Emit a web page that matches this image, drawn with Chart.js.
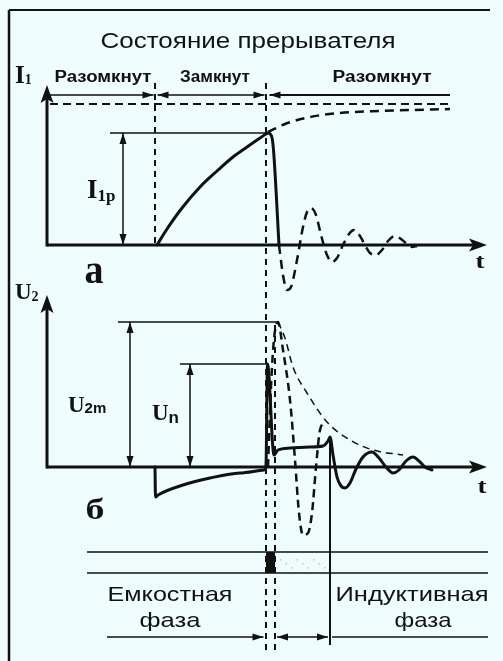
<!DOCTYPE html>
<html><head><meta charset="utf-8">
<script src="https://cdn.jsdelivr.net/npm/chart.js@4.4.0/dist/chart.umd.min.js"></script>
<style>html,body{margin:0;padding:0;background:#eefcfe;}#wrap{position:relative;width:503px;height:661px;}</style>
</head><body><div id="wrap"><canvas id="c"></canvas></div>
<script>
// ---------- DATA (time t in arbitrary units, currents / voltages in arbitrary units) ----------
const tClose = 10.8;      // breaker closes
const tBreak = 21.9;      // breaker opens
const tSpark = 22.8;      // breakdown
const tSparkEnd = 28.3;   // end of inductive phase
const levelI1p = 11.2;    // I1р
const levelI1max = 14.1;  // steady-state current (dashed)
const levelU2m = 14.5;    // U2m
const levelUn = 10.3;     // Un

const i1Charge_t = [11.0, 12.0, 13.5, 15.3, 17.0, 18.6, 20.0, 21.3, 21.9, 22.1, 22.45, 22.65, 23.2];
const i1Charge_v = [0, 1.6, 3.7, 5.8, 7.4, 8.8, 9.8, 10.7, 11.1, 11.2, 10.9, 9.5, 0];

const i1Osc_t = [23.2, 23.6, 24.0, 24.4, 25.0, 25.6, 26.0, 26.4, 26.9, 27.4, 28.0, 28.5, 29.0, 29.6, 30.2, 30.7, 31.3, 31.9, 32.3, 32.9, 33.5, 34.1, 34.8, 35.4, 36.0, 36.5, 37.0];
const i1Osc_v = [0, -3.0, -4.5, -4.2, -1.5, 1.8, 3.3, 3.7, 3.0, 1.0, -1.0, -1.7, -1.3, 0, 1.1, 1.5, 0.9, -0.2, -0.8, -1.0, -0.5, 0.4, 0.9, 0.6, 0.1, -0.2, -0.1];

const i1Asym_t = [22.1, 23.8, 26.3, 29.3, 33.3, 40.3];
const i1Asym_v = [11.3, 12.1, 12.8, 13.2, 13.4, 13.6];

const u2_t = [10.8, 10.85, 11.1, 13.6, 16.3, 19.3, 21.7, 21.9, 22.05, 22.7, 23.1, 24.3, 26.3, 27.6, 28.1, 28.3, 28.6, 29.0, 29.4, 29.8, 30.3, 30.9, 31.6, 32.5, 33.2, 33.9, 34.6, 35.2, 35.9, 36.6, 37.2, 37.8, 38.5];
const u2_v = [0, -3.0, -2.8, -1.8, -1.1, -0.6, -0.3, 0.2, 10.3, 1.2, 1.7, 1.9, 2.0, 2.1, 2.6, 3.0, 1.2, -1.0, -1.9, -2.1, -1.6, -0.2, 1.0, 1.5, 0.9, 0.0, -0.6, -0.3, 0.6, 1.0, 0.6, 0.0, -0.3];

const u2Env_t = [23.1, 23.8, 24.6, 26.0, 28.0, 30.3, 32.6, 35.6];
const u2Env_v = [14.5, 12.9, 10.0, 7.4, 4.5, 2.7, 1.7, 1.2];

const u2Open_t = [22.1, 22.4, 22.7, 23.1, 23.6, 24.3, 24.8, 25.2, 25.6, 26.1, 26.5, 26.9, 27.3, 27.8];
const u2Open_v = [0, 8.0, 12.8, 14.5, 11.7, 6.7, 0.7, -4.6, -6.8, -6.6, -4.6, 0, 3.7, 4.5];

const txtTitle = 'Состояние прерывателя';
const txtStates = ['Разомкнут', 'Замкнут', 'Разомкнут'];
const txtPhases = ['Емкостная', 'фаза', 'Индуктивная', 'фаза'];

// ---------- RENDER ----------
const BG = '#eefcfe', INK = '#111';
const zip = (t, v) => t.map((x, i) => ({x: x, y: v[i]}));
const SANS = '"Liberation Sans", Arial, sans-serif';
const SERIF = '"Liberation Serif", "Times New Roman", serif';

function seg(ctx, x1, y1, x2, y2, w, dash) {
  ctx.save(); ctx.strokeStyle = INK; ctx.lineWidth = w; ctx.setLineDash(dash || []);
  ctx.beginPath(); ctx.moveTo(x1, y1); ctx.lineTo(x2, y2); ctx.stroke(); ctx.restore();
}
function head(ctx, x, y, ang, len, wid, notch) {
  const c = Math.cos(ang), s = Math.sin(ang);
  const bx = x - len * c, by = y - len * s;
  const nx = x - (len - (notch || 0)) * c, ny = y - (len - (notch || 0)) * s;
  ctx.save(); ctx.fillStyle = INK; ctx.beginPath();
  ctx.moveTo(x, y);
  ctx.lineTo(bx - wid / 2 * s, by + wid / 2 * c);
  ctx.lineTo(nx, ny);
  ctx.lineTo(bx + wid / 2 * s, by - wid / 2 * c);
  ctx.closePath(); ctx.fill(); ctx.restore();
}
function arrow(ctx, x1, y1, x2, y2, w, startHead, endHead) {
  const ang = Math.atan2(y2 - y1, x2 - x1);
  seg(ctx, x1, y1, x2, y2, w);
  if (endHead) head(ctx, x2, y2, ang, 11, 7, 0);
  if (startHead) head(ctx, x1, y1, ang + Math.PI, 11, 7, 0);
}
function fitText(ctx, txt, cx, by, font, w) {
  ctx.save(); ctx.font = font; ctx.fillStyle = INK;
  const m = ctx.measureText(txt).width;
  ctx.translate(cx, by); ctx.scale(w / m, 1);
  ctx.textAlign = 'center'; ctx.textBaseline = 'alphabetic';
  ctx.fillText(txt, 0, 0); ctx.restore();
}
function sub(ctx, main, subs, x, by, f1, f2, dy) {
  ctx.save(); ctx.fillStyle = INK; ctx.textAlign = 'left'; ctx.textBaseline = 'alphabetic';
  ctx.font = f1; ctx.fillText(main, x, by);
  const w = ctx.measureText(main).width;
  ctx.font = f2; ctx.fillText(subs, x + w, by + dy); ctx.restore();
}

const decor = {
  id: 'decor',
  beforeDraw(chart) {
    const ctx = chart.ctx; ctx.save(); ctx.fillStyle = BG; ctx.fillRect(0, 0, chart.width, chart.height);
    seg(ctx, 9, 10, 490, 10, 2); seg(ctx, 9, 10, 9, 661, 2.5);
    ctx.restore();
  },
  beforeDatasetsDraw(chart) {
    const ctx = chart.ctx, s = chart.scales;
    const X = v => s.x.getPixelForValue(v), A = v => s.yA.getPixelForValue(v), B = v => s.yB.getPixelForValue(v);
    // --- plot a axes
    seg(ctx, X(0), A(0), X(44.0) - 10, A(0), 3);
    head(ctx, X(44.0), A(0), 0, 18, 13, 4);
    seg(ctx, X(0), A(0) + 1.5, X(0), A(16.0) + 10, 3);
    head(ctx, X(0), A(16.0), -Math.PI / 2, 18, 13, 4);
    // --- plot б axes
    seg(ctx, X(0), B(0), X(44.0) - 10, B(0), 3);
    head(ctx, X(0), B(17.2), -Math.PI / 2, 18, 13, 4);
    seg(ctx, X(0), B(0) + 1.5, X(0), B(17.2) + 10, 3);
    head(ctx, X(44.0), B(0), 0, 18, 13, 4);
    // breaker state arrows
    arrow(ctx, X(0.3), A(15.0), X(tClose) - 1.5, A(15.0), 1.5, false, true);
    arrow(ctx, X(tClose) + 2.5, A(15.0), X(tBreak) - 1.5, A(15.0), 1.5, true, true);
    arrow(ctx, X(tBreak) + 3.5, A(15.0), X(40.3), A(15.0), 2, true, false);
    // steady current dashed
    seg(ctx, X(0.3), A(levelI1max), X(40.3), A(levelI1max), 2, [8, 5]);
    // vertical dashed lines
    seg(ctx, X(tClose), A(16.2), X(tClose), A(0), 2, [6, 5]);
    seg(ctx, X(tBreak), A(16.2), X(tBreak), B(-18.3), 2, [6, 5]);
    seg(ctx, X(tSpark), B(14.2), X(tSpark), B(-18.3), 2, [6, 5]);
    // I1p dimension
    seg(ctx, X(6.3), A(levelI1p), X(tBreak), A(levelI1p), 1.5);
    arrow(ctx, X(7.6), A(0), X(7.6), A(levelI1p), 1.5, true, true);
    // U2m, Un dimensions
    seg(ctx, X(7.1), B(levelU2m), X(23.1), B(levelU2m), 1.5);
    arrow(ctx, X(8.3), B(0), X(8.3), B(levelU2m), 1.5, true, true);
    seg(ctx, X(13.3), B(levelUn), X(22.1), B(levelUn), 1.5);
    arrow(ctx, X(14.3), B(0), X(14.3), B(levelUn), 1.5, true, true);
    // phase strip
    seg(ctx, X(4.0), B(-8.5), X(44.1), B(-8.5), 1.5);
    seg(ctx, X(4.0), B(-10.6), X(44.1), B(-10.6), 1.5);
    ctx.save(); ctx.fillStyle = INK;
    ctx.fillRect(X(tBreak), B(-8.5), X(tSpark) - X(tBreak), B(-10.6) - B(-8.5));
    ctx.fillStyle = '#bfc8c8';
    for (let k = 0; k < 9; k++) { ctx.fillRect(X(tSpark + 0.5 + k * 0.55), B(-9.2 - (k % 3) * 0.4), 1.5, 1.5); }
    ctx.restore();
    seg(ctx, X(tSparkEnd), B(2.8), X(tSparkEnd), B(-17.8), 2);
    arrow(ctx, X(6.0), B(-17.0), X(tBreak) - 2.5, B(-17.0), 1.5, false, true);
    arrow(ctx, X(tSpark) + 2, B(-17.0), X(tSparkEnd) - 2, B(-17.0), 1.5, true, true);
    seg(ctx, X(tSparkEnd) + 2, B(-17.0), X(44.1), B(-17.0), 1.5);
  },
  afterDatasetsDraw(chart) {
    const ctx = chart.ctx, s = chart.scales;
    const X = v => s.x.getPixelForValue(v), A = v => s.yA.getPixelForValue(v), B = v => s.yB.getPixelForValue(v);
    fitText(ctx, txtTitle, X(20.1), A(19.7), '22px ' + SANS, 295);
    fitText(ctx, txtStates[0], X(5.6), A(16.3), 'bold 16px ' + SANS, 97);
    fitText(ctx, txtStates[1], X(16.8), A(16.3), 'bold 16px ' + SANS, 70);
    fitText(ctx, txtStates[2], X(33.5), A(16.3), 'bold 16px ' + SANS, 99);
    sub(ctx, 'I', '1', X(-3.2), A(16.2), 'bold 25px ' + SERIF, 'bold 14px ' + SERIF, 1);
    sub(ctx, 'I', '1р', X(4.0), A(4.7), 'bold 27px ' + SERIF, 'bold 17px ' + SERIF, 3);
    fitText(ctx, 'а', X(4.7), A(-3.8), 'bold 40px ' + SERIF, 19);
    fitText(ctx, 't', X(43.3), A(-2.3), 'bold 22px ' + SERIF, 9);
    sub(ctx, 'U', '2', X(-3.2), B(16.8), 'bold 23px ' + SERIF, 'bold 14px ' + SERIF, 2);
    sub(ctx, 'U', '2m', X(2.1), B(5.5), 'bold 23px ' + SERIF, 'bold 15px ' + SANS, 1);
    sub(ctx, 'U', 'n', X(10.5), B(4.7), 'bold 23px ' + SERIF, 'bold 17px ' + SANS, 3);
    fitText(ctx, 'б', X(4.8), B(-5.2), 'bold 30px ' + SERIF, 19);
    fitText(ctx, 't', X(43.5), B(-2.6), 'bold 22px ' + SERIF, 9);
    fitText(ctx, txtPhases[0], X(12.3), B(-13.4), '21px ' + SANS, 125);
    fitText(ctx, txtPhases[1], X(12.3), B(-16.0), '21px ' + SANS, 61);
    fitText(ctx, txtPhases[2], X(36.5), B(-13.4), '21px ' + SANS, 153);
    fitText(ctx, txtPhases[3], X(37.6), B(-16.0), '21px ' + SANS, 57);
  }
};

const dsBase = {showLine: true, pointRadius: 0, borderColor: INK, fill: false, cubicInterpolationMode: 'monotone', borderCapStyle: 'round', borderJoinStyle: 'round'};
new Chart(document.getElementById('c'), {
  type: 'scatter',
  data: {
    datasets: [
      Object.assign({}, dsBase, {label: 'I1', data: zip(i1Charge_t, i1Charge_v), yAxisID: 'yA', borderWidth: 3}),
      Object.assign({}, dsBase, {label: 'I1 osc', data: zip(i1Osc_t, i1Osc_v), yAxisID: 'yA', borderWidth: 2.5, borderDash: [9, 6], borderCapStyle: 'butt'}),
      Object.assign({}, dsBase, {label: 'I1 asym', data: zip(i1Asym_t, i1Asym_v), yAxisID: 'yA', borderWidth: 2.5, borderDash: [9, 6], borderCapStyle: 'butt'}),
      Object.assign({}, dsBase, {label: 'U2 open', data: zip(u2Open_t, u2Open_v), yAxisID: 'yB', borderWidth: 2.5, borderDash: [8, 5], borderCapStyle: 'butt'}),
      Object.assign({}, dsBase, {label: 'U2 env', data: zip(u2Env_t, u2Env_v), yAxisID: 'yB', borderWidth: 1.5, borderDash: [7, 5], borderCapStyle: 'butt'}),
      Object.assign({}, dsBase, {label: 'U2', data: zip(u2_t, u2_v), yAxisID: 'yB', borderWidth: 3})
    ]
  },
  options: {
    responsive: true, maintainAspectRatio: false, animation: false,
    layout: {padding: 0},
    plugins: {legend: {display: false}, tooltip: {enabled: false}},
    events: [],
    scales: {
      x: {type: 'linear', display: false, min: -4.7, max: 45.6},
      yA: {type: 'linear', display: false, min: -41.6, max: 24.5},
      yB: {type: 'linear', display: false, min: -19.4, max: 46.7}
    }
  },
  plugins: [decor]
});
</script></body></html>
